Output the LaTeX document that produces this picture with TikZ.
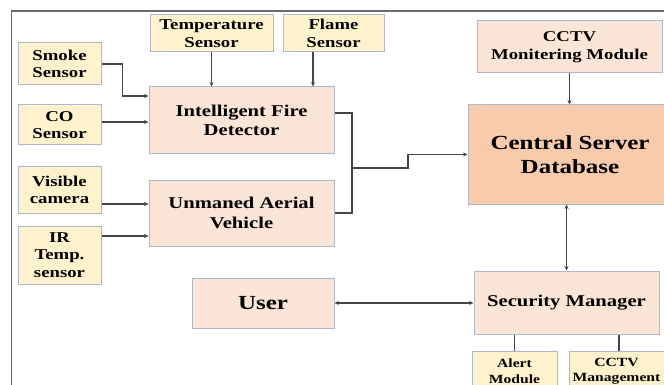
\documentclass[tikz,border=0pt]{standalone}
\usepackage{fontspec}
\setmainfont[FakeStretch=1.25]{Liberation Serif}
\usetikzlibrary{arrows.meta}
\definecolor{sensorfill}{HTML}{FFF2CC}
\definecolor{unitfill}{HTML}{FBE5D6}
\definecolor{serverfill}{HTML}{F8CBAD}
\definecolor{boxline}{HTML}{ADB9CA}
\definecolor{wire}{HTML}{454545}
\definecolor{framegray}{HTML}{6A6A6A}
\tikzset{
  base/.style={draw=boxline, line width=1pt, align=center, inner sep=0pt, text=black, font=\bfseries},
  sensor/.style={base, fill=sensorfill, font=\bfseries\fontsize{15}{17.5}\selectfont},
  unit/.style={base, fill=unitfill, font=\bfseries\fontsize{16.5}{19.5}\selectfont},
  bigunit/.style={base, fill=unitfill, font=\bfseries\fontsize{20}{24}\selectfont},
  server/.style={base, fill=serverfill, font=\bfseries\fontsize{20}{24}\selectfont},
  tiny/.style={base, fill=sensorfill, font=\bfseries\fontsize{12.5}{15.5}\selectfont},
  wireline/.style={draw=wire, line width=1.3pt},
  arr/.style={wireline, -{Stealth[length=4.5pt,width=4pt]}},
  biarr/.style={wireline, {Stealth[length=4.5pt,width=4pt]}-{Stealth[length=4.5pt,width=4pt]}},
}
\begin{document}
\begin{tikzpicture}[x=1pt,y=-1pt]
\useasboundingbox (0,0) rectangle (664,385);
\fill[white] (0,0) rectangle (664,385);

% outer frame (top and left edges)
\draw[framegray, line width=1.8pt] (11.5,385) -- (11.5,11) -- (664,11);

% sensors
\node[sensor, minimum width=123pt, minimum height=37pt] (temp) at (211.5,33.5) {Temperature\\Sensor};
\node[sensor, minimum width=101pt, minimum height=37pt] (flame) at (333.5,33.5) {Flame\\Sensor};
\node[sensor, minimum width=83pt, minimum height=42pt] (smoke) at (59.5,64) {Smoke\\Sensor};
\node[sensor, minimum width=83pt, minimum height=40pt] (co) at (59.5,125) {CO\\Sensor};
\node[sensor, minimum width=83pt, minimum height=46pt] (vis) at (59.5,190) {Visible\\camera};
\node[sensor, minimum width=83pt, minimum height=58pt] (ir) at (59.5,255) {IR\\Temp.\\sensor};

% processing units
\node[unit, minimum width=185pt, minimum height=67pt] (ifd) at (241.5,120.5) {Intelligent Fire\\Detector};
\node[unit, minimum width=185pt, minimum height=66pt] (uav) at (241.5,213) {Unmaned Aerial\\Vehicle};
\node[bigunit, minimum width=142pt, minimum height=50pt] (user) at (263,303) {User};
\node[sensor, fill=unitfill, minimum width=185pt, minimum height=52pt] (cctvm) at (569.5,47) {CCTV\\Monitering Module};
\node[server, minimum width=204pt, minimum height=99pt] (csd) at (570,154.5) {Central Server\\Database};
\node[unit, minimum width=185pt, minimum height=63pt] (sm) at (566.5,302.5) {Security Manager};
\node[tiny, minimum width=85pt, minimum height=40pt] (alert) at (514.5,371) {Alert\\Module};
\node[tiny, minimum width=95pt, minimum height=40pt] (cctvmg) at (616.5,371) {CCTV\\Management};

% sensor inputs
\draw[arr] (smoke.east) -- ++(21,0) |- ([yshift=24.5pt]ifd.west);
\draw[arr] ([yshift=3pt]co.east) -- ([yshift=3pt]co.east -| ifd.west);
\draw[arr] (temp.south) -- (temp.south |- ifd.north);
\draw[arr] ([xshift=-20.5pt]flame.south) -- ([xshift=-20.5pt]flame.south |- ifd.north);
\draw[arr] ([yshift=-14pt]vis.east) -- ([yshift=-14pt]vis.east -| uav.west);
\draw[arr] ([yshift=19pt]ir.east) -- ([yshift=19pt]ir.east -| uav.west);

% detector and vehicle feed the server through a common bus
\coordinate (busTop) at (352,113);
\coordinate (busBot) at (352,213);
\coordinate (bus) at (352,168);
\coordinate (jog) at (408,168);
\draw[wireline] ([yshift=7.5pt]ifd.east) -- (busTop) -- (busBot) -- (uav.east);
\draw[arr] (bus) -- (jog) |- (csd.west);

% server links
\draw[arr] (cctvm.south) -- (cctvm.south |- csd.north);
\draw[biarr] (sm.north) -- (sm.north |- csd.south);
\draw[biarr] (user.east) -- (user.east -| sm.west);

% security manager outputs
\draw[wireline] (alert.north |- sm.south) -- (alert.north);
\draw[wireline] ([xshift=2.5pt]cctvmg.north |- sm.south) -- ([xshift=2.5pt]cctvmg.north);
\end{tikzpicture}
\end{document}
